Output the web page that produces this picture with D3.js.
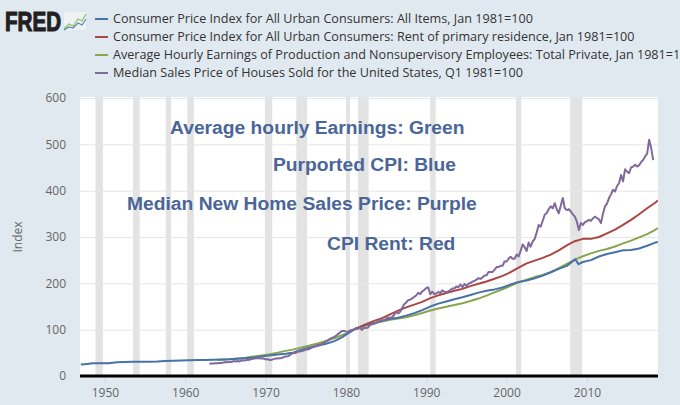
<!DOCTYPE html>
<html><head><meta charset="utf-8">
<script src="https://cdn.jsdelivr.net/npm/d3@7"></script>
<style>body{margin:0;background:#e1e9f0;}svg{display:block}</style>
</head><body><svg id="c" width="680" height="405"></svg>
<script>
// ---------------- DATA ----------------
const seriesNames = [
  "Consumer Price Index for All Urban Consumers: All Items, Jan 1981=100",
  "Consumer Price Index for All Urban Consumers: Rent of primary residence, Jan 1981=100",
  "Average Hourly Earnings of Production and Nonsupervisory Employees: Total Private, Jan 1981=100",
  "Median Sales Price of Houses Sold for the United States, Q1 1981=100"
];
const seriesColors = ["#4572a7", "#aa4643", "#89a54e", "#80699b"];
const annotationTexts = [
  "Average hourly Earnings: Green",
  "Purported CPI: Blue",
  "Median New Home Sales Price: Purple",
  "CPI Rent: Red"
];
const yTicks = [0, 100, 200, 300, 400, 500, 600];
const xTicks = [1950, 1960, 1970, 1980, 1990, 2000, 2010];
const recessionStarts = [1948.83, 1953.5, 1957.58, 1960.25, 1969.92, 1973.83, 1980.0, 1981.5, 1990.5, 2001.17, 2007.92];
const recessionEnds   = [1949.75, 1954.33, 1958.25, 1961.08, 1970.83, 1975.17, 1980.5, 1982.83, 1991.17, 2001.83, 2009.42];

// CPI all items  [year, index]
const cpiAll = [[1947.0,24.6],[1947.5,25.6],[1948.5,27.6],[1949.5,27.3],[1950.5,27.6],[1951.5,29.8],[1952.5,30.4],
 [1953.5,30.6],[1954.5,30.8],[1955.5,30.7],[1956.5,31.2],[1957.5,32.2],[1958.5,33.1],[1959.5,33.4],[1960.5,33.9],
 [1961.5,34.3],[1962.5,34.6],[1963.5,35.1],[1964.5,35.6],[1965.5,36.1],[1966.5,37.2],[1967.5,38.3],[1968.5,39.9],
 [1969.5,42.1],[1970.5,44.5],[1971.5,46.4],[1972.5,47.9],[1973.5,50.9],[1974.5,56.5],[1975.5,61.7],[1976.5,65.3],
 [1977.5,69.5],[1978.5,74.8],[1979.5,83.3],[1980.5,94.5],[1981.0,100],[1981.5,104.2],[1982.5,110.7],[1983.5,114.2],
 [1984.5,119.2],[1985.5,123.4],[1986.5,125.7],[1987.5,130.3],[1988.5,135.7],[1989.5,142.2],[1990.5,149.9],
 [1991.5,156.2],[1992.5,160.9],[1993.5,165.7],[1994.5,170.0],[1995.5,174.8],[1996.5,179.9],[1997.5,184.1],
 [1998.5,186.9],[1999.5,191.1],[2000.5,197.5],[2001.5,203.1],[2002.5,206.3],[2003.5,211.0],[2004.5,216.6],
 [2005.5,224.0],[2006.5,231.2],[2007.5,237.7],[2008.55,252.0],[2008.95,241.5],[2009.5,246.0],[2010.5,250.1],
 [2011.5,257.9],[2012.5,263.3],[2013.5,267.2],[2014.5,271.4],[2015.5,271.8],[2016.5,275.2],[2017.5,281.1],
 [2018.5,288.0],[2018.83,289.0]];

// CPI rent of primary residence [year, index]
const cpiRent = [[1981.0,100],[1981.5,104],[1982.5,112],[1983.5,119],[1984.5,125],[1985.5,133],[1986.5,141],
 [1987.5,148],[1988.5,154],[1989.5,160],[1990.5,168],[1991.5,174],[1992.5,179],[1993.5,184],[1994.5,188],
 [1995.5,194],[1996.5,199],[1997.5,204],[1998.5,210],[1999.5,216],[2000.5,224],[2001.5,234],[2002.5,243],
 [2003.5,249],[2004.5,255],[2005.5,262],[2006.5,271],[2007.5,282],[2008.5,291],[2009.5,296],[2010.5,296],
 [2011.5,300],[2012.5,308],[2013.5,316],[2014.5,326],[2015.5,337],[2016.5,349],[2017.5,362],[2018.5,374],
 [2018.83,379]];

// Average hourly earnings [year, index]
const hourlyEarnings = [[1964.0,34.5],[1964.5,35.2],[1965.5,36.3],[1966.5,37.8],[1967.5,39.4],[1968.5,41.9],
 [1969.5,44.4],[1970.5,47.2],[1971.5,50.4],[1972.5,54.2],[1973.5,57.5],[1974.5,61.5],[1975.5,65.7],[1976.5,70.3],
 [1977.5,75.6],[1978.5,81.5],[1979.5,87.9],[1980.5,95.0],[1981.0,100],[1981.5,103.2],[1982.5,109.2],[1983.5,113.8],
 [1984.5,117.8],[1985.5,121.3],[1986.5,123.9],[1987.5,126.8],[1988.5,131.0],[1989.5,136.1],[1990.5,141.5],
 [1991.5,145.8],[1992.5,149.4],[1993.5,153.2],[1994.5,157.2],[1995.5,161.7],[1996.5,167.1],[1997.5,173.5],
 [1998.5,180.6],[1999.5,187.1],[2000.5,194.4],[2001.5,201.9],[2002.5,207.9],[2003.5,213.5],[2004.5,217.9],
 [2005.5,223.9],[2006.5,232.6],[2007.5,241.9],[2008.5,251.0],[2009.5,258.5],[2010.5,264.6],[2011.5,270.0],
 [2012.5,274.2],[2013.5,279.6],[2014.5,286.3],[2015.5,292.1],[2016.5,299.2],[2017.5,306.3],[2018.5,315.4],
 [2018.83,319.0]];

// Median sales price of houses sold, quarterly from 1963 Q1 (index)
const houseStartYear = 1963;
const housePrice = [
 26.6,26.9,26.8,27.7, 27.7,28.3,28.3,29.0, 30.2,29.6,30.2,30.2, 32.2,31.4,32.2,31.4, 33.4,33.4,34.1,34.7,
 35.0,36.5,37.0,38.2, 38.5,38.3,38.0,37.7, 35.8,36.5,34.4,34.9, 36.4,37.6,37.6,38.3, 38.9,40.9,41.9,42.4,
 45.2,48.1,49.4,49.7, 52.2,53.0,54.0,54.8, 57.2,57.3,58.8,61.4, 62.3,65.1,66.8,67.4, 69.3,71.1,74.7,76.5,
 80.1,82.0,83.8,86.7, 90.3,93.6,97.3,97.0, 96.3,95.1,98.4,99.6, 100.0,103.6,101.8,103.9, 99.4,104.2,103.6,104.5,
 110.2,111.8,112.7,114.4, 117.1,119.9,120.5,119.6, 124.0,126.2,125.6,127.2, 131.7,138.5,134.9,138.5,
 146.6,154.8,158.4,163.8, 164.7,167.4,170.7,173.7, 179.6,176.6,182.6,185.6, 189.8,191.6,176.6,181.9,
 176.6,178.1,181.3,178.9, 184.9,181.9,181.1,182.6, 185.6,188.6,188.8,193.1, 191.6,197.6,191.6,198.7,
 194.6,199.1,200.6,203.6, 205.1,208.1,211.1,209.6, 212.6,217.1,217.1,224.6, 224.6,224.6,229.0,235.0,
 235.0,238.0,238.0,247.0, 247.0,253.0,257.5,253.0, 253,262,258,270, 284,278,270,288, 279,290,296,310,
 326,322,335,348, 352,360,366,362, 373,360,351,368, 384,362,358,360, 355,349,344,333, 315,330,326,332,
 334,337,335,340, 344,341,338,330, 350,366,372,384, 392,402,398,410, 416,434,420,446, 441,438,450,452,
 456,452,455,462, 466,474,480,510, 492,466
];

// ---------------- DRAW ----------------
const svg = d3.select("#c");
const W = 680, H = 405;
const m = {left: 80, right: 658, top: 98, bottom: 376};

svg.append("rect").attr("width", W).attr("height", H).attr("fill", "#e1e9f0");

const x = d3.scaleLinear().domain([1946.9, 2018.85]).range([m.left, m.right]);
const y = d3.scaleLinear().domain([0, 600]).range([m.bottom, m.top]);

svg.append("rect").attr("x", m.left).attr("y", m.top - 1)
  .attr("width", m.right - m.left).attr("height", m.bottom - m.top + 1).attr("fill", "#ffffff");

// recession bands
svg.append("g").selectAll("rect").data(recessionStarts).join("rect")
  .attr("x", (d) => x(d))
  .attr("width", (d, i) => x(recessionEnds[i]) - x(d))
  .attr("y", m.top - 1).attr("height", m.bottom - m.top + 1)
  .attr("fill", "#e3e3e3");

// grid + y labels
const yAxis = d3.axisLeft(y).tickValues(yTicks).tickSize(-(m.right - m.left)).tickPadding(14);
const gy = svg.append("g").attr("transform", `translate(${m.left},0)`).call(yAxis);
gy.select(".domain").remove();
gy.selectAll(".tick line").attr("stroke", "#e6e6e6").attr("stroke-width", 1);
gy.selectAll(".tick text").attr("fill", "#666").style("font-family", "'Open Sans'").style("font-size", "12px");

// x axis
const xAxis = d3.axisBottom(x).tickValues(xTicks).tickFormat(d3.format("d")).tickSize(7).tickPadding(5);
const gx = svg.append("g").attr("transform", `translate(0,${m.bottom})`).call(xAxis);
gx.select(".domain").remove();
gx.selectAll(".tick line").attr("stroke", "#ccd6eb");
gx.selectAll(".tick text").attr("fill", "#666").style("font-family", "'Open Sans'").style("font-size", "12px");

// y label
svg.append("text").attr("transform", "translate(22,237) rotate(-90)")
  .attr("text-anchor", "middle").attr("fill", "#666")
  .style("font-family", "'Open Sans'").style("font-size", "12px").text("Index");

// annotations
const annX = [170, 273, 127, 327];
const annY = [134, 171, 210, 250];
const ann = svg.append("g").selectAll("text").data(annotationTexts).join("text")
  .attr("x", (d, i) => annX[i]).attr("y", (d, i) => annY[i])
  .attr("fill", "#4a6698")
  .style("font-family", "'Liberation Sans', Arial, sans-serif")
  .style("font-weight", "bold").style("font-size", "19px")
  .text((d) => d);
{
  const node = ann.nodes()[2];
  const w = node.getComputedTextLength();
  const fs = 19 * 350 / w;
  ann.style("font-size", fs.toFixed(2) + "px");
}

// lines
const clipId = "clipPlot";
svg.append("clipPath").attr("id", clipId).append("rect")
  .attr("x", m.left).attr("y", m.top - 5).attr("width", m.right - m.left).attr("height", m.bottom - m.top + 5);
const line = d3.line().x((d) => x(d[0])).y((d) => y(d[1]));
const houseSeries = housePrice.map((v, i) => [houseStartYear + i * 0.25, v]);
const allSeries = [cpiAll, cpiRent, hourlyEarnings, houseSeries];
const order = [2, 0, 1, 3];
const lg = svg.append("g").attr("clip-path", `url(#${clipId})`);
order.forEach((k) => {
  lg.append("path").datum(allSeries[k]).attr("d", line)
    .attr("fill", "none").attr("stroke", seriesColors[k]).attr("stroke-width", 2)
    .attr("stroke-linejoin", "round");
});

// bottom axis line
svg.append("line").attr("x1", m.left).attr("x2", m.right).attr("y1", m.bottom).attr("y2", m.bottom)
  .attr("stroke", "#000").attr("stroke-width", 3);

// legend
const legY = [19, 37, 55, 73];
const leg = svg.append("g");
seriesNames.forEach((name, i) => {
  leg.append("line").attr("x1", 95).attr("x2", 108).attr("y1", legY[i]).attr("y2", legY[i])
    .attr("stroke", seriesColors[i]).attr("stroke-width", 2);
});
const legText = leg.selectAll("text").data(seriesNames).join("text")
  .attr("x", 113).attr("y", (d, i) => legY[i] + 4)
  .attr("fill", "#333")
  .style("font-family", "'Open Sans'").style("font-size", "12px")
  .text((d) => d);
{
  const n = legText.nodes()[2];
  const cut = seriesNames[2].indexOf("1981=1") + 6;
  const w = n.getSubStringLength(0, cut);
  const fs = 12 * (680 - 113) / w;
  legText.style("font-size", fs.toFixed(2) + "px");
}

// FRED logo
svg.append("text").attr("x", 5).attr("y", 31)
  .attr("fill", "#231f20").attr("stroke", "#231f20").attr("stroke-width", 1.2)
  .style("font-family", "'Liberation Sans', Arial, sans-serif").style("font-weight", "bold")
  .style("font-size", "28px")
  .attr("textLength", 56).attr("lengthAdjust", "spacingAndGlyphs")
  .text("FRED");
const icon = svg.append("g");
icon.append("rect").attr("x", 64).attr("y", 12).attr("width", 22).attr("height", 18).attr("fill", "#eef2f4");
icon.append("polyline").attr("points", "64,29 69,24 73,26 78,19 82,21 86,14")
  .attr("fill", "none").attr("stroke", "#8fbf5a").attr("stroke-width", 1.2);
icon.append("polyline").attr("points", "64,30 69,27 73,28 78,23 82,25 86,19")
  .attr("fill", "none").attr("stroke", "#5b86b5").attr("stroke-width", 1.2);
</script></body></html>
